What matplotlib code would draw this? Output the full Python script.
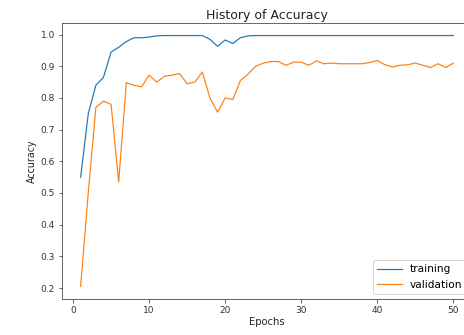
import matplotlib
matplotlib.use("Agg")
import matplotlib.pyplot as plt

epochs = list(range(1, 51))
training = [0.55, 0.75, 0.84, 0.865, 0.945, 0.96, 0.978, 0.99, 0.99, 0.992,
            0.996, 0.997, 0.997, 0.997, 0.997, 0.997, 0.997, 0.985, 0.963, 0.983,
            0.972, 0.99, 0.996, 0.997, 0.997, 0.997, 0.997, 0.997, 0.997, 0.997,
            0.997, 0.997, 0.997, 0.997, 0.997, 0.997, 0.997, 0.997, 0.997, 0.997,
            0.997, 0.997, 0.997, 0.997, 0.997, 0.997, 0.997, 0.997, 0.997, 0.997]
validation = [0.205, 0.50, 0.77, 0.79, 0.78, 0.535, 0.848, 0.84, 0.835, 0.872,
              0.85, 0.868, 0.872, 0.877, 0.845, 0.85, 0.882, 0.80, 0.755, 0.80,
              0.795, 0.855, 0.875, 0.90, 0.91, 0.915, 0.915, 0.903, 0.913, 0.913,
              0.903, 0.917, 0.908, 0.91, 0.908, 0.908, 0.908, 0.908, 0.912, 0.918,
              0.905, 0.898, 0.903, 0.905, 0.91, 0.903, 0.896, 0.908, 0.896, 0.91]

W, H = 464, 335
fig = plt.figure(figsize=(W / 72, H / 72), dpi=72)
ax = fig.add_axes([62 / W, 1 - 299 / H, (472 - 62) / W, (299 - 23) / H])
ax.plot(epochs, training, color="#1f77b4", lw=1.2, label="training")
ax.plot(epochs, validation, color="#ff7f0e", lw=1.2, label="validation")
ax.set_title("History of Accuracy", fontsize=12.5, pad=4, color="#222222")
ax.set_xlabel("Epochs", fontsize=10, labelpad=2, color="#222222")
ax.set_ylabel("Accuracy", fontsize=9.5, color="#222222")
ax.tick_params(labelsize=9, length=3.5, labelcolor="#333333", color="#444444")
for s in ax.spines.values():
    s.set_edgecolor("#444444")
ax.set_xticks([0, 10, 20, 30, 40, 50])
ax.set_yticks([0.2, 0.3, 0.4, 0.5, 0.6, 0.7, 0.8, 0.9, 1.0])
ax.legend(loc="lower right", fontsize=10.5, handlelength=2.3)
fig.savefig("out.png", dpi=72)
